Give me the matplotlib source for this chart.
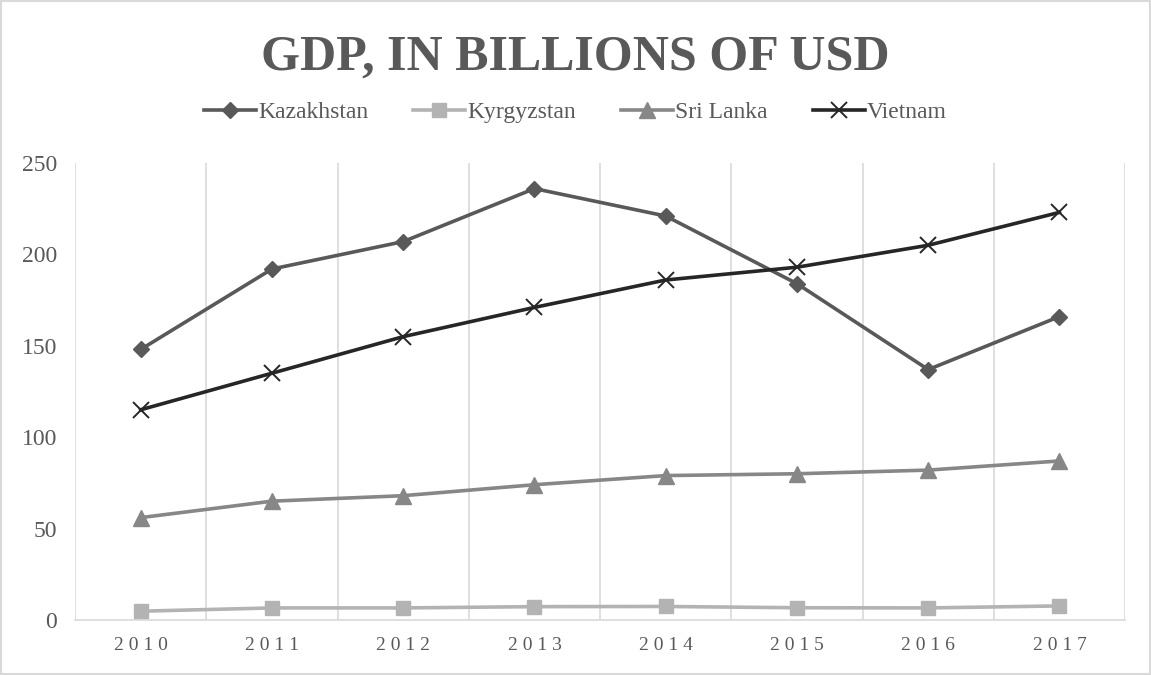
import matplotlib.pyplot as plt
import numpy as np

years = ['2010', '2011', '2012', '2013', '2014', '2015', '2016', '2017']
kazakhstan = [148, 192, 207, 236, 221, 184, 137, 166]
kyrgyzstan = [4.8, 6.6, 6.6, 7.3, 7.4, 6.7, 6.6, 7.7]
sri_lanka = [56, 65, 68, 74, 79, 80, 82, 87]
vietnam = [115, 135, 155, 171, 186, 193, 205, 223]

plt.rcParams['font.family'] = ['Liberation Serif', 'DejaVu Serif']
txt = '#595959'
grid = '#d9d9d9'

fig = plt.figure(figsize=(11.51, 6.75), dpi=100)
ax = fig.add_axes([0.0652, 0.0815, 0.9123, 0.677])

x = np.arange(len(years))
ax.plot(x, kazakhstan, color='#595959', lw=2.6, marker='D', ms=8.5, label='Kazakhstan', zorder=3)
ax.plot(x, kyrgyzstan, color='#b3b3b3', lw=2.6, marker='s', ms=10.5, label='Kyrgyzstan', zorder=3)
ax.plot(x, sri_lanka, color='#878787', lw=2.6, marker='^', ms=11.5, label='Sri Lanka', zorder=3)
ax.plot(x, vietnam, color='#262626', lw=2.6, marker='x', ms=11, mew=1.4, label='Vietnam', zorder=4)

ax.set_xlim(-0.5, len(years) - 0.5)
ax.set_ylim(0, 250)
ax.set_yticks(range(0, 251, 50))
ax.set_xticks(x)
# spaced digits, like the letter spacing in the original
ax.set_xticklabels([' '.join(y) for y in years])
for b in np.arange(-0.5, len(years), 1.0):
    ax.axvline(b, color=grid, lw=1.2, zorder=1)

for s in ['top', 'right', 'left']:
    ax.spines[s].set_visible(False)
ax.spines['bottom'].set_color(grid)
ax.spines['bottom'].set_linewidth(1.2)
ax.tick_params(axis='both', length=0, colors=txt)
ax.tick_params(axis='y', labelsize=17, pad=13)
ax.tick_params(axis='x', labelsize=14, pad=12)

fig.text(0.5, 0.915, 'GDP, IN BILLIONS OF USD', ha='center', va='center',
         fontsize=36, fontweight='bold', color=txt)
leg = fig.legend(loc='center', bbox_to_anchor=(0.5, 0.833), ncol=4, frameon=False,
                 fontsize=17, handlelength=2.2, columnspacing=1.9, handletextpad=0.1)
for t in leg.get_texts():
    t.set_color(txt)

fig.patches.append(plt.Rectangle((0.001, 0.001), 0.998, 0.997, transform=fig.transFigure,
                                 fill=False, edgecolor=grid, lw=1.5))

fig.savefig('out.png', dpi=100)
